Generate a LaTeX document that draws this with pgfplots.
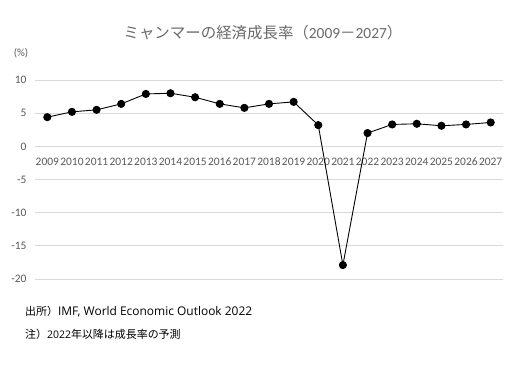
\documentclass[border=0pt]{standalone}
\usepackage{pgfplots}
\pgfplotsset{compat=1.18}
\usepackage{fontspec}
\setmainfont{Carlito}
\newfontfamily\jp{Noto Sans CJK JP}
\newfontfamily\os{Open Sans}
\definecolor{txtgray}{HTML}{595959}
\definecolor{gridgray}{HTML}{D9D9D9}
\begin{document}
\begin{tikzpicture}[x=1bp,y=1bp]
\path[use as bounding box] (0,0) rectangle (526,364);
\fill[white] (0,0) rectangle (526,364);
\begin{axis}[
  at={(35bp,85bp)}, anchor=south west,
  scale only axis, width=468bp, height=199bp,
  xmin=2008.5, xmax=2027.5, ymin=-20, ymax=10,
  axis x line=middle, axis y line=left,
  axis line style={draw=none},
  major tick length=0pt,
  xtick={2009,...,2027}, ytick={-20,-15,...,10},
  ymajorgrids, grid style={gridgray, line width=0.8pt},
  /pgf/number format/assume math mode=true,
  x tick label style={/pgf/number format/1000 sep={}, font=\fontsize{11.5}{13}\selectfont, text=txtgray, anchor=north, yshift=-8bp, inner xsep=0pt},
  y tick label style={font=\fontsize{11.5}{13}\selectfont, text=txtgray, xshift=-5bp},
  clip=false,
]
\addplot[black, line width=0.9pt, mark=*, mark size=3.6pt] coordinates {
(2009,4.4) (2010,5.2) (2011,5.5) (2012,6.4) (2013,7.9) (2014,8.0)
(2015,7.4) (2016,6.4) (2017,5.8) (2018,6.4) (2019,6.7) (2020,3.2)
(2021,-17.9) (2022,2.0) (2023,3.3) (2024,3.4) (2025,3.1) (2026,3.3) (2027,3.6)
};
\end{axis}
\node[text=txtgray!90, font=\fontsize{15.5}{17}\selectfont] at (263,331) {{\jp ミャンマーの経済成長率（}2009{\jp －}2027{\jp ）}};
\node[text=txtgray, font=\fontsize{11}{13}\selectfont] at (21,311) {(\%)};
\node[anchor=west, text=black, font=\fontsize{11}{13}\selectfont, inner sep=0pt] at (25,52) {{\jp 出所）}{\os\fontsize{12}{13}\selectfont IMF, World Economic Outlook 2022}};
\node[anchor=west, text=black, font=\fontsize{11}{13}\selectfont, inner sep=0pt] at (25,30) {{\jp 注）}{\os\fontsize{10.5}{13}\selectfont 2022}{\jp 年以降は成長率の予測}};
\end{tikzpicture}
\end{document}
